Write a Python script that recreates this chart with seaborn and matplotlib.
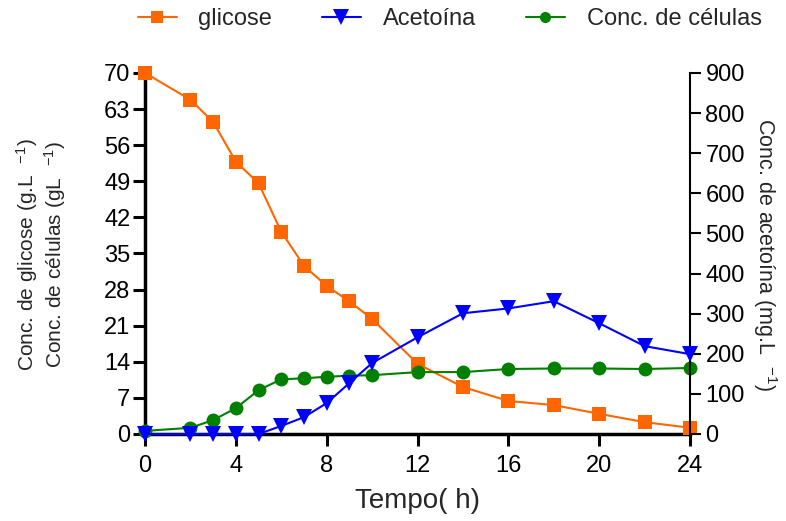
import numpy as np
import pandas as pd
import seaborn as sns
import matplotlib.pyplot as plt
from matplotlib.lines import Line2D

# data
tempo = [0, 2, 3, 4, 5, 6, 7, 8, 9, 10, 12, 14, 16, 18, 20, 22, 24]
glicose = [70.0, 64.8, 60.5, 52.8, 48.6, 39.2, 32.6, 28.7, 25.7, 22.3, 13.6, 9.1, 6.4, 5.6, 3.9, 2.3, 1.2]
acetoina = [0, 0, 0, 0, 0, 20, 42, 77, 127, 177, 241, 301, 313, 331, 276, 219, 199]
celulas = [0.6, 1.2, 2.7, 5.0, 8.5, 10.6, 10.8, 11.1, 11.3, 11.4, 12.0, 12.0, 12.6, 12.7, 12.7, 12.6, 12.8]

x_ticks = [0, 4, 8, 12, 16, 20, 24]
left_ticks = list(range(0, 71, 7))
right_ticks = list(range(0, 901, 100))

df = pd.DataFrame({"tempo": tempo, "glicose": glicose, "acetoina": acetoina, "celulas": celulas})

sns.set_style("ticks")
plt.rcParams['font.family'] = ['Liberation Sans', 'DejaVu Sans']
plt.rcParams['mathtext.fontset'] = 'custom'
plt.rcParams['mathtext.rm'] = 'Liberation Sans'
plt.rcParams['mathtext.it'] = 'Liberation Sans'

c_gli, c_ace, c_cel = "#FF6600", "#0000FF", "#008000"

fig = plt.figure(figsize=(7.86, 5.21), dpi=100)
ax = fig.add_axes([0.1845, 0.167, 0.6935, 0.693])
ax2 = ax.twinx()

sns.lineplot(data=df, x="tempo", y="glicose", ax=ax, color=c_gli, marker="s", markersize=10,
             markeredgewidth=0, linewidth=1.5, clip_on=False, zorder=3)
sns.lineplot(data=df, x="tempo", y="celulas", ax=ax, color=c_cel, marker="o", markersize=10,
             markeredgewidth=0, linewidth=1.5, clip_on=False, zorder=3)
sns.lineplot(data=df, x="tempo", y="acetoina", ax=ax2, color=c_ace, marker="v", markersize=12,
             markeredgewidth=0, linewidth=1.5, clip_on=False, zorder=3)

ax.set_xlim(0, 24)
ax.set_ylim(0, 70)
ax2.set_ylim(0, 900)
ax.set_xticks(x_ticks)
ax.set_yticks(left_ticks)
ax2.set_yticks(right_ticks)

ax.spines["top"].set_visible(False)
ax2.spines["top"].set_visible(False)
ax2.spines["left"].set_visible(False)
ax2.spines["bottom"].set_visible(False)
ax.spines["right"].set_visible(False)
ax.spines["left"].set_linewidth(2.5)
ax.spines["bottom"].set_linewidth(2.5)
ax2.spines["right"].set_linewidth(1.5)
for sp in list(ax.spines.values()) + list(ax2.spines.values()):
    sp.set_color("black")

ax.tick_params(axis="both", direction="out", length=8.5, width=2.2, labelsize=17, colors="black", pad=2)
ax.tick_params(axis="x", pad=6.5)
ax2.tick_params(axis="y", direction="out", length=8, width=1.5, labelsize=17, colors="black", pad=3)

ax.set_xlabel("Tempo( h)", fontsize=20, labelpad=8)
ax.set_ylabel("")
ax2.set_ylabel("")
fig.text(0.034, 0.512, "Conc. de glicose (g.L  $^{-1}$)", rotation=90, fontsize=15, ha="center", va="center")
fig.text(0.070, 0.512, "Conc. de células (gL  $^{-1}$)", rotation=90, fontsize=15, ha="center", va="center")
fig.text(0.973, 0.512, "Conc. de acetoína (mg.L  $^{-1}$)", rotation=270, fontsize=15.5, ha="center", va="center")

handles = [
    Line2D([], [], color=c_gli, marker="s", markersize=9, markeredgewidth=0, linewidth=1.5),
    Line2D([], [], color=c_ace, marker="v", markersize=11, markeredgewidth=0, linewidth=1.5),
    Line2D([], [], color=c_cel, marker="o", markersize=8, markeredgewidth=0, linewidth=1.5),
]
fig.legend(handles, ["glicose", "Acetoína", "Conc. de células"], loc="upper center",
           bbox_to_anchor=(0.572, 1.025), ncol=3, frameon=False, fontsize=17,
           columnspacing=2.1, handlelength=1.65, handletextpad=0.93)

fig.savefig("out.png", dpi=100)
